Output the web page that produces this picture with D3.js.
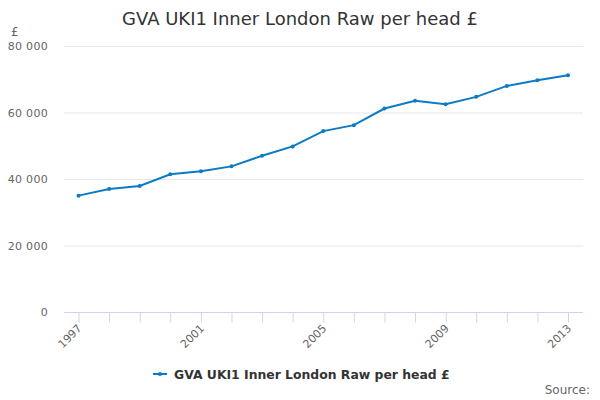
<!DOCTYPE html>
<html>
<head>
<meta charset="utf-8">
<script src="https://cdn.jsdelivr.net/npm/d3@7"></script>
<style>
  body { margin: 0; background: #fff; }
  svg { font-family: "DejaVu Sans", sans-serif; }
</style>
</head>
<body>
<div id="chart"></div>
<script>
// Chart data
const years = [1997, 1998, 1999, 2000, 2001, 2002, 2003, 2004, 2005,
               2006, 2007, 2008, 2009, 2010, 2011, 2012, 2013];
const gvaValues = [35000, 37000, 37900, 41400, 42300, 43800, 47000, 49800, 54400,
                   56200, 61200, 63500, 62500, 64700, 68000, 69700, 71200];
const yTicks = [0, 20000, 40000, 60000, 80000];
const labelledYears = [1997, 2001, 2005, 2009, 2013];
const seriesName = 'GVA UKI1 Inner London Raw per head £';

const W = 600, H = 400;
const margin = { top: 46, right: 17, bottom: 88, left: 64 };
const lineColor = '#0a7bc4';

const svg = d3.select('#chart')
    .append('svg')
    .attr('width', W)
    .attr('height', H);

const x = d3.scalePoint()
    .domain(years)
    .range([margin.left + 14.5, W - margin.right - 15])
    .padding(0);

const y = d3.scaleLinear()
    .domain([0, 80000])
    .range([H - margin.bottom, margin.top]);

// Title
svg.append('text')
    .attr('x', 300)
    .attr('y', 25)
    .attr('text-anchor', 'middle')
    .attr('font-size', 18)
    .attr('fill', '#333')
    .text(seriesName);

// Unit label
svg.append('text')
    .attr('x', 11)
    .attr('y', 36)
    .attr('font-size', 12)
    .attr('fill', '#666')
    .text('£');

// Gridlines
svg.append('g')
    .selectAll('line')
    .data(yTicks.filter(d => d > 0))
    .enter()
    .append('line')
    .attr('x1', margin.left)
    .attr('x2', W - margin.right)
    .attr('y1', d => y(d) + 0.5)
    .attr('y2', d => y(d) + 0.5)
    .attr('stroke', '#e6e6e6')
    .attr('stroke-width', 1);

// Y axis labels
const fmt = d => d3.format(',')(d).replace(/,/g, ' ');
svg.append('g')
    .selectAll('text')
    .data(yTicks)
    .enter()
    .append('text')
    .attr('x', 48)
    .attr('y', d => y(d) + 4)
    .attr('text-anchor', 'end')
    .attr('font-size', 11)
    .attr('fill', '#666')
    .attr('letter-spacing', 0.3)
    .text(fmt);

// X axis
const xAxis = svg.append('g')
    .attr('transform', `translate(0,${y(0) + 0.5})`)
    .call(d3.axisBottom(x).tickSize(10).tickFormat(''));
xAxis.select('.domain')
    .attr('d', `M${margin.left},0H${W - margin.right}`)
    .attr('stroke', '#ccd6eb');
xAxis.selectAll('.tick line').attr('stroke', '#ccd6eb');

svg.append('g')
    .selectAll('text')
    .data(labelledYears)
    .enter()
    .append('text')
    .attr('transform', d => `translate(${x(d) + 4},${y(0) + 17}) rotate(-45)`)
    .attr('text-anchor', 'end')
    .attr('font-size', 11)
    .attr('fill', '#666')
    .text(d => d);

// Line
const line = d3.line()
    .x((d, i) => x(years[i]))
    .y(d => y(d));

svg.append('path')
    .datum(gvaValues)
    .attr('d', line)
    .attr('fill', 'none')
    .attr('stroke', lineColor)
    .attr('stroke-width', 2);

svg.append('g')
    .selectAll('circle')
    .data(gvaValues)
    .enter()
    .append('circle')
    .attr('cx', (d, i) => x(years[i]))
    .attr('cy', d => y(d))
    .attr('r', 2)
    .attr('fill', lineColor);

// Legend
const legend = svg.append('g').attr('transform', 'translate(153,374)');
legend.append('line')
    .attr('x1', 0).attr('x2', 14)
    .attr('y1', 0).attr('y2', 0)
    .attr('stroke', lineColor)
    .attr('stroke-width', 2);
legend.append('circle')
    .attr('cx', 7).attr('cy', 0).attr('r', 2)
    .attr('fill', lineColor);
legend.append('text')
    .attr('x', 21)
    .attr('y', 4.5)
    .attr('font-size', 12.4)
    .attr('font-weight', 'bold')
    .attr('fill', '#333')
    .text(seriesName);

// Source
svg.append('text')
    .attr('x', 590)
    .attr('y', 394)
    .attr('text-anchor', 'end')
    .attr('font-size', 12)
    .attr('fill', '#666')
    .text('Source:');
</script>
</body>
</html>
